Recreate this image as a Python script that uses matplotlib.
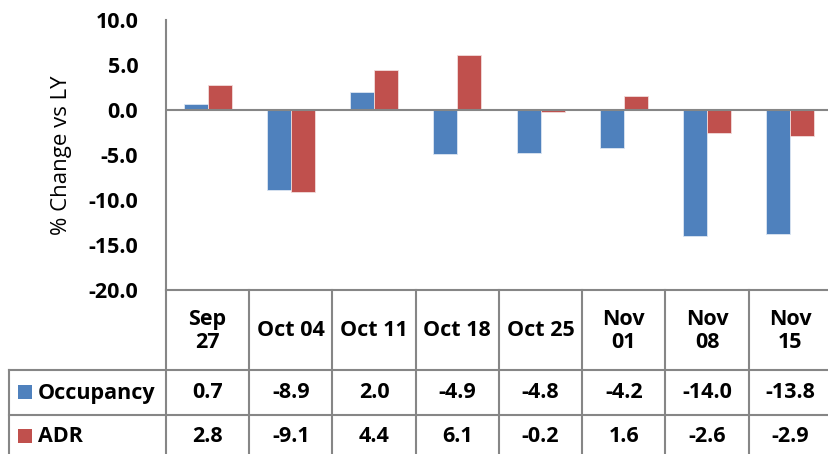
import matplotlib
matplotlib.use("Agg")
import matplotlib.pyplot as plt
from matplotlib.lines import Line2D
from matplotlib.patches import Rectangle
from matplotlib.transforms import blended_transform_factory
import numpy as np

categories = ["Sep\n27", "Oct 04", "Oct 11", "Oct 18", "Oct 25", "Nov\n01", "Nov\n08", "Nov\n15"]
occupancy = [0.7, -8.9, 2.0, -4.9, -4.8, -4.2, -14.0, -13.8]
adr = [2.8, -9.1, 4.4, 6.1, -0.2, 1.6, -2.6, -2.9]
series_names = ["Occupancy", "ADR"]
yticks = [10.0, 5.0, 0.0, -5.0, -10.0, -15.0, -20.0]

BLUE = "#4F81BD"
RED = "#C0504D"
GRAY = "#868686"
FONT = "Open Sans"
FS = 15.5

W, H = 829, 454
fig = plt.figure(figsize=(W / 100, H / 100), dpi=100)

def fx(px):
    return px / W

def fy(py):
    return 1 - py / H

ax_left, ax_right, ax_top, ax_bot = 166, 832, 20, 290
ax = fig.add_axes([fx(ax_left), fy(ax_bot), fx(ax_right - ax_left), (ax_bot - ax_top) / H])

n = len(categories)
x = np.arange(n)
bw = 0.288
ax.bar(x - bw / 2, occupancy, bw, color=BLUE, edgecolor="#DCE6F2", linewidth=0.6, zorder=2)
ax.bar(x + bw / 2, adr, bw, color=RED, edgecolor="#F2DCDB", linewidth=0.6, zorder=2)
ax.set_xlim(-0.5, n - 0.5)
ax.set_ylim(-20, 10)
ax.set_yticks(yticks)
ax.set_yticklabels([f"{v:.1f}" for v in yticks], fontfamily=FONT, fontweight="bold", fontsize=FS)
ax.tick_params(axis="y", length=0, pad=20)
ax.set_xticks([])
ax.axhline(0, color=GRAY, linewidth=1.5, zorder=3)
for s in ["top", "right"]:
    ax.spines[s].set_visible(False)
ax.spines["left"].set_color(GRAY)
ax.spines["left"].set_linewidth(1.5)
ax.spines["bottom"].set_color(GRAY)
ax.spines["bottom"].set_linewidth(1.5)
ax.set_ylabel("% Change vs LY", fontfamily=FONT, fontsize=16, labelpad=12)

# Data table below the axes
tr = blended_transform_factory(ax.transData, fig.transFigure)
row_lines = [370, 415]
for py in row_lines:
    fig.add_artist(Line2D([fx(9), fx(ax_right)], [fy(py), fy(py)], transform=fig.transFigure,
                          color=GRAY, linewidth=1.5))
for b in np.arange(n + 1) - 0.5:
    fig.add_artist(Line2D([b, b], [fy(ax_bot), fy(H + 5)], transform=tr, color=GRAY, linewidth=1.5))
fig.add_artist(Line2D([fx(9), fx(9)], [fy(370), fy(H + 5)], transform=fig.transFigure,
                      color=GRAY, linewidth=1.5))

for i, c in enumerate(categories):
    fig.text(i, fy(331), c, transform=tr, ha="center", va="center", fontfamily=FONT,
             fontweight="bold", fontsize=FS, linespacing=1.15)
    fig.text(i, fy(393), f"{occupancy[i]:.1f}", transform=tr, ha="center", va="center",
             fontfamily=FONT, fontweight="bold", fontsize=FS)
    fig.text(i, fy(437), f"{adr[i]:.1f}", transform=tr, ha="center", va="center",
             fontfamily=FONT, fontweight="bold", fontsize=FS)

for name, col, py in [(series_names[0], BLUE, 392), (series_names[1], RED, 436)]:
    fig.add_artist(Rectangle((fx(18), fy(py + 7)), fx(14), 14 / H, transform=fig.transFigure,
                             facecolor=col, edgecolor="none"))
    fig.text(fx(38), fy(py + 1), name, ha="left", va="center", fontfamily=FONT,
             fontweight="bold", fontsize=FS)

fig.savefig("out.png", dpi=100)
